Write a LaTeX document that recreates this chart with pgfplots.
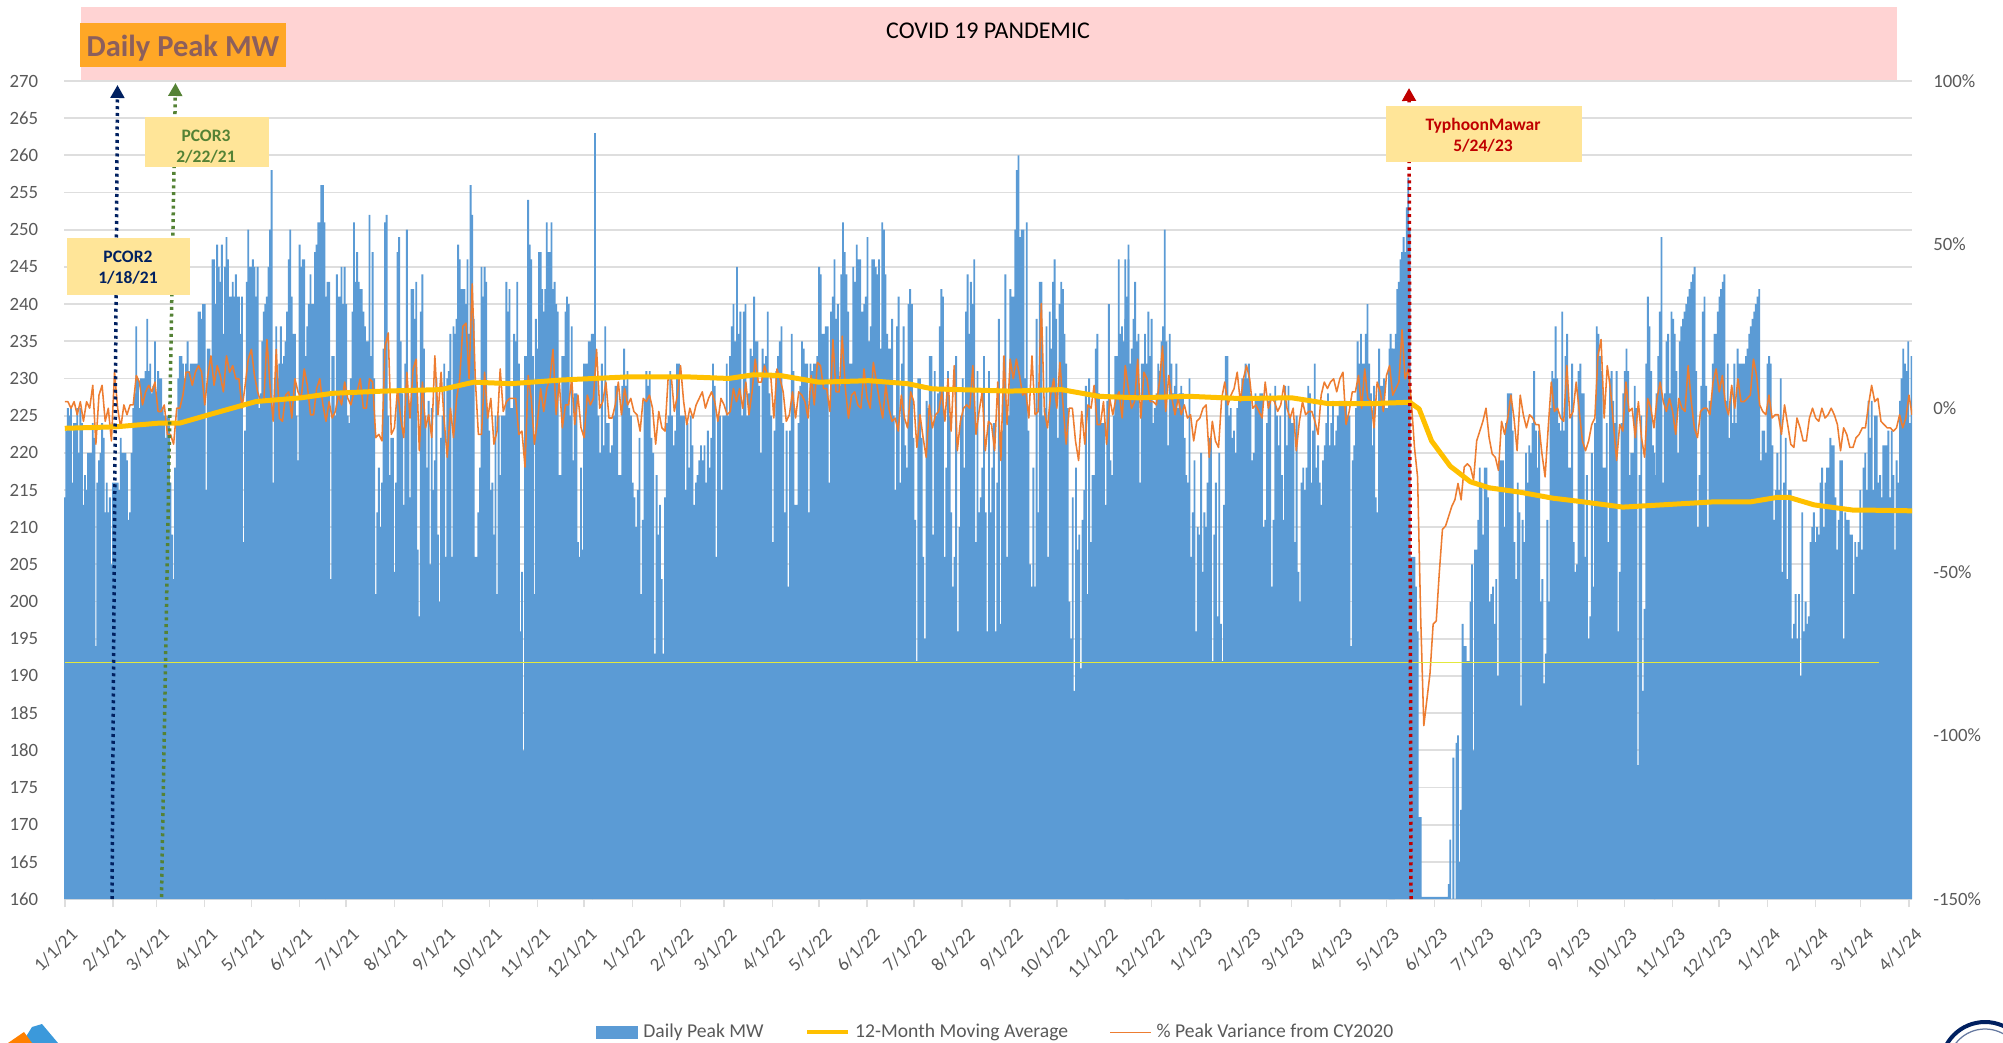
\documentclass[border=0pt]{standalone}
\usepackage{fontspec}
\setmainfont{Carlito}
\usepackage{pgfplots}
\usepackage{pgfplotstable}
\pgfplotsset{compat=1.18}
\usetikzlibrary{arrows.meta}
\definecolor{barblue}{HTML}{5B9BD5}
\definecolor{peakorange}{HTML}{ED7D31}
\definecolor{magold}{HTML}{FFC000}
\definecolor{ticktext}{HTML}{595959}
\definecolor{gridgray}{HTML}{DEDEDE}
\definecolor{pinkband}{HTML}{FFD3D3}
\definecolor{notebox}{HTML}{FFE598}
\definecolor{titlebox}{HTML}{FFA726}
\definecolor{titletext}{HTML}{8C5F5C}
\definecolor{navy}{HTML}{002060}
\definecolor{pgreen}{HTML}{548235}
\definecolor{tred}{HTML}{C00000}
\definecolor{limeline}{HTML}{E4E83C}
\tikzset{dotarrow/.style={draw=#1, line width=1.4pt, dash pattern=on 1.2pt off 1.5pt, -{Triangle[width=5.4pt,length=5.2pt]}}}
% Daily Peak MW, seven runs
\pgfplotstableread[row sep=crcr,header=false]{
214\\223\\226\\225\\226\\216\\224\\224\\226\\220\\226\\224\\213\\217\\215\\220\\220\\220\\224\\222\\194\\216\\219\\220\\224\\222\\212\\216\\212\\214\\205\\216\\216\\216\\216\\215\\222\\220\\220\\220\\219\\211\\212\\220\\226\\228\\237\\230\\226\\230\\230\\230\\231\\238\\231\\232\\228\\229\\235\\227\\231\\230\\230\\226\\225\\222\\225\\225\\216\\209\\203\\218\\224\\230\\233\\233\\232\\230\\232\\235\\231\\232\\232\\232\\232\\232\\239\\239\\238\\240\\240\\215\\234\\234\\233\\246\\246\\240\\248\\245\\243\\248\\236\\245\\249\\246\\241\\241\\243\\241\\244\\241\\241\\236\\241\\208\\223\\243\\250\\245\\245\\246\\245\\241\\245\\226\\228\\235\\239\\240\\241\\245\\250\\258\\216\\230\\237\\230\\232\\237\\232\\233\\235\\239\\246\\250\\241\\236\\236\\225\\219\\248\\245\\246\\246\\233\\237\\240\\244\\240\\240\\247\\248\\251\\251\\256\\256\\251\\
}\runA
\pgfplotstableread[row sep=crcr,header=false]{
241\\243\\243\\203\\233\\233\\225\\244\\241\\241\\245\\240\\245\\240\\225\\224\\230\\239\\251\\243\\247\\243\\242\\242\\239\\237\\235\\235\\252\\233\\247\\230\\201\\212\\218\\210\\216\\234\\251\\252\\225\\217\\222\\222\\204\\216\\247\\249\\235\\228\\213\\232\\250\\227\\214\\242\\242\\238\\243\\207\\198\\239\\244\\234\\225\\218\\227\\205\\226\\215\\219\\230\\209\\200\\222\\225\\232\\206\\230\\231\\236\\206\\237\\236\\238\\248\\246\\242\\242\\242\\240\\246\\236\\256\\252\\238\\206\\206\\212\\218\\245\\241\\245\\243\\225\\223\\215\\216\\209\\225\\201\\225\\217\\225\\225\\225\\243\\239\\242\\226\\226\\236\\235\\243\\232\\196\\204\\180\\233\\233\\254\\248\\246\\233\\201\\238\\234\\247\\247\\242\\239\\242\\251\\247\\247\\251\\242\\243\\240\\239\\217\\217\\233\\233\\239\\241\\240\\225\\237\\219\\228\\228\\208\\206\\218\\207\\232\\232\\232\\235\\235\\236\\
}\runB
\pgfplotstableread[row sep=crcr,header=false]{
236\\263\\230\\225\\220\\232\\221\\237\\224\\224\\220\\221\\225\\229\\229\\217\\217\\229\\234\\229\\231\\226\\225\\216\\214\\210\\215\\222\\201\\211\\227\\231\\229\\231\\222\\220\\193\\217\\209\\213\\203\\193\\214\\224\\225\\231\\225\\221\\223\\232\\232\\225\\225\\225\\215\\224\\218\\225\\221\\213\\216\\217\\219\\221\\219\\221\\216\\223\\218\\222\\232\\229\\206\\225\\225\\215\\225\\225\\232\\225\\233\\237\\240\\235\\245\\236\\239\\225\\239\\240\\225\\228\\234\\233\\241\\235\\235\\229\\220\\234\\232\\233\\239\\228\\225\\208\\223\\231\\233\\235\\237\\224\\212\\223\\202\\223\\236\\231\\213\\213\\224\\229\\235\\234\\232\\232\\212\\232\\231\\232\\232\\233\\245\\244\\236\\236\\237\\237\\216\\239\\241\\246\\238\\240\\229\\244\\251\\247\\244\\239\\232\\232\\245\\243\\248\\246\\246\\
}\runC
\pgfplotstableread[row sep=crcr,header=false]{
239\\239\\240\\241\\249\\235\\237\\246\\246\\245\\244\\246\\234\\251\\250\\244\\236\\234\\234\\238\\225\\215\\237\\241\\216\\232\\237\\221\\218\\240\\242\\240\\222\\211\\192\\230\\230\\222\\206\\195\\227\\226\\233\\233\\209\\231\\225\\228\\237\\242\\241\\206\\218\\231\\225\\212\\202\\206\\233\\196\\210\\225\\230\\218\\239\\244\\236\\243\\240\\246\\208\\231\\212\\214\\218\\233\\212\\196\\231\\212\\218\\224\\196\\216\\238\\197\\223\\233\\244\\206\\225\\242\\241\\241\\250\\258\\260\\249\\250\\250\\230\\251\\223\\205\\202\\218\\202\\238\\212\\243\\243\\225\\226\\237\\206\\239\\234\\243\\246\\238\\222\\240\\243\\242\\236\\232\\226\\200\\195\\214\\188\\218\\207\\209\\191\\211\\215\\229\\201\\230\\208\\217\\217\\234\\236\\228\\224\\224\\224\\213\\227\\240\\219\\217\\225\\233\\233\\246\\236\\237\\235\\238\\241\\246\\
}\runD
\pgfplotstableread[row sep=crcr,header=false]{
246\\238\\248\\232\\234\\238\\243\\235\\236\\216\\232\\232\\236\\232\\239\\233\\238\\224\\226\\228\\232\\231\\235\\237\\250\\235\\221\\236\\232\\228\\229\\232\\226\\228\\229\\228\\222\\217\\216\\230\\206\\212\\219\\196\\210\\209\\220\\204\\212\\210\\216\\222\\222\\192\\209\\216\\198\\220\\197\\192\\213\\233\\233\\225\\226\\222\\223\\220\\226\\227\\227\\230\\230\\232\\230\\232\\228\\219\\220\\228\\227\\227\\228\\228\\210\\211\\224\\227\\228\\202\\211\\229\\225\\221\\225\\217\\211\\229\\221\\229\\225\\224\\224\\208\\225\\204\\200\\216\\218\\215\\218\\229\\228\\216\\223\\232\\218\\221\\216\\213\\219\\221\\224\\228\\221\\224\\227\\221\\223\\225\\227\\227\\227\\227\\227\\225\\225\\194\\219\\221\\226\\235\\232\\236\\232\\232\\236\\240\\232\\228\\221\\229\\214\\212\\234\\229\\229\\230\\226\\226\\231\\236\\234\\231\\
}\runE
\pgfplotstableread[row sep=crcr,header=false]{
234\\233\\234\\234\\236\\242\\243\\246\\247\\249\\247\\253\\257\\250\\206\\206\\206\\202\\196\\171\\171\\160.3\\160.3\\160.3\\160.3\\160.3\\160.3\\160.3\\160.3\\160.3\\160.3\\160.3\\160.3\\160.3\\160.3\\160.3\\160.3\\160.3\\162\\168\\160\\179\\160\\181\\182\\165\\172\\197\\194\\194\\192\\192\\200\\205\\180\\207\\207\\211\\
}\runF
\pgfplotstableread[row sep=crcr,header=false]{
218\\216\\209\\218\\218\\214\\200\\201\\202\\197\\203\\190\\219\\219\\219\\210\\224\\228\\228\\228\\223\\208\\203\\216\\212\\186\\211\\208\\220\\216\\221\\220\\224\\231\\223\\218\\223\\200\\203\\189\\193\\211\\200\\226\\231\\230\\237\\230\\224\\223\\239\\223\\233\\236\\218\\218\\232\\208\\204\\205\\231\\232\\228\\228\\206\\217\\195\\198\\220\\202\\224\\237\\236\\233\\231\\218\\218\\224\\208\\230\\231\\227\\224\\231\\196\\204\\224\\228\\231\\234\\231\\217\\220\\220\\229\\226\\178\\217\\225\\188\\199\\232\\241\\237\\231\\221\\220\\
}\runG
\pgfplotstableread[row sep=crcr,header=false]{
217\\228\\233\\239\\249\\216\\228\\235\\236\\228\\239\\238\\236\\231\\220\\235\\237\\238\\239\\240\\241\\242\\243\\244\\245\\231\\210\\217\\229\\239\\241\\229\\210\\227\\227\\232\\236\\236\\239\\241\\242\\243\\244\\227\\232\\222\\228\\224\\232\\224\\234\\232\\232\\232\\232\\233\\234\\236\\237\\238\\239\\240\\241\\242\\219\\223\\223\\220\\232\\233\\232\\221\\211\\215\\220\\215\\230\\204\\216\\222\\203\\215\\215\\195\\197\\201\\195\\201\\190\\212\\196\\200\\197\\198\\208\\210\\212\\208\\210\\209\\216\\218\\210\\216\\218\\218\\222\\221\\221\\214\\207\\211\\219\\219\\195\\212\\211\\211\\209\\209\\201\\208\\206\\208\\215\\207\\218\\220\\215\\227\\222\\227\\215\\225\\225\\216\\217\\214\\221\\221\\221\\223\\214\\223\\217\\207\\219\\216\\227\\230\\234\\232\\231\\235\\224\\233\\233\\
}\runH
% % Peak Variance from CY2020, one reading every second day
\pgfplotstableread[row sep=crcr,header=false]{
2\\2\\0\\2\\-2\\2\\-4\\2\\0\\7\\-11\\4\\7\\-4\\0\\-10\\11\\0\\-6\\1\\-2\\1\\1\\10\\8\\1\\5\\7\\5\\8\\-1\\-1\\1\\-8\\-8\\-11\\0\\0\\4\\11\\11\\7\\11\\13\\11\\1\\10\\16\\7\\13\\10\\5\\16\\11\\13\\9\\9\\0\\7\\15\\18\\10\\5\\2\\2\\21\\7\\-4\\18\\-3\\-4\\4\\5\\-3\\9\\5\\3\\12\\7\\-2\\-2\\6\\9\\1\\-4\\2\\
-3\\-1\\4\\1\\8\\3\\1\\5\\5\\9\\0\\0\\9\\8\\-9\\-8\\-10\\19\\23\\-8\\-6\\6\\-3\\-9\\11\\-3\\12\\15\\-13\\8\\-6\\-2\\-9\\16\\-2\\11\\-4\\-15\\0\\-9\\3\\9\\25\\26\\9\\38\\9\\-8\\-8\\11\\-3\\3\\-11\\-7\\12\\-1\\2\\3\\3\\3\\-8\\-7\\-18\\10\\3\\-11\\-4\\6\\-1\\6\\9\\18\\-2\\8\\-6\\1\\1\\9\\-5\\4\\-6\\-9\\4\\1\\3\\
18\\0\\2\\8\\-3\\-3\\1\\8\\-2\\6\\1\\3\\-1\\-2\\-7\\3\\2\\4\\0\\-11\\-1\\-6\\-7\\9\\10\\-1\\4\\13\\2\\-5\\0\\-3\\1\\3\\5\\0\\3\\5\\2\\-4\\3\\1\\-2\\-1\\6\\2\\6\\0\\8\\-2\\5\\15\\8\\8\\13\\10\\10\\-3\\12\\9\\5\\-4\\-2\\5\\-3\\5\\4\\2\\-3\\10\\1\\14\\13\\6\\6\\-1\\21\\5\\5\\22\\6\\-3\\4\\5\\1\\
0\\12\\3\\0\\14\\8\\2\\-3\\7\\0\\-4\\-3\\-7\\4\\-3\\-6\\5\\2\\-12\\-2\\-9\\-15\\1\\-6\\-2\\-1\\5\\-4\\9\\-7\\13\\-13\\-4\\0\\1\\0\\13\\-8\\-1\\5\\-13\\-4\\-5\\-13\\8\\-16\\16\\-5\\15\\9\\15\\10\\4\\5\\-3\\16\\-2\\-1\\32\\-1\\-6\\4\\9\\0\\14\\1\\-11\\0\\0\\-10\\-16\\-1\\-11\\1\\0\\7\\-5\\-5\\2\\-11\\3\\-2\\3\\5\\-3\\
13\\6\\0\\2\\15\\-3\\11\\9\\2\\2\\1\\8\\19\\-1\\10\\3\\-2\\3\\-2\\1\\-3\\-2\\-10\\-4\\-3\\0\\1\\-15\\-4\\-10\\-12\\3\\8\\1\\4\\6\\11\\2\\9\\13\\9\\0\\1\\-1\\-3\\8\\0\\3\\2\\-1\\1\\7\\0\\-3\\0\\-13\\-4\\2\\-2\\-1\\-1\\-4\\-8\\4\\8\\6\\8\\9\\5\\9\\11\\-5\\-1\\5\\5\\10\\0\\12\\3\\2\\-6\\8\\5\\-1\\10\\13\\
4\\6\\8\\24\\9\\12\\2\\-12\\-21\\-64\\-97\\-89\\-81\\-66\\-65\\-50\\-37\\-36\\-33\\-30\\-28\\-23\\-28\\-18\\-17\\-18\\-22\\-10\\-7\\-4\\0\\-9\\-14\\-15\\-19\\-4\\-8\\-3\\4\\-3\\-13\\4\\-2\\-6\\-2\\-3\\-5\\-5\\-14\\-21\\-6\\8\\-1\\0\\-3\\-4\\13\\-3\\-1\\8\\-1\\-10\\-13\\-10\\-5\\-3\\16\\21\\-3\\13\\6\\-5\\-16\\-5\\-7\\8\\-1\\0\\-9\\2\\-9\\-15\\3\\0\\-6\\
3\\8\\2\\-1\\3\\-1\\-8\\3\\0\\-1\\13\\2\\-6\\-9\\-1\\0\\0\\-2\\8\\12\\5\\10\\1\\-2\\7\\0\\9\\2\\2\\3\\4\\15\\10\\1\\-1\\-2\\4\\-3\\-2\\-2\\-8\\1\\-5\\-11\\-12\\-3\\-6\\-10\\-10\\-3\\0\\-3\\-4\\0\\-3\\-2\\0\\-2\\-5\\-13\\-6\\-8\\-12\\-12\\-9\\-8\\-6\\-6\\1\\7\\2\\3\\-4\\-5\\-6\\-6\\-7\\-6\\-2\\-6\\-3\\4\\-2\\
}\runPct
\begin{document}
\begin{tikzpicture}
\begin{scope}[x=0.4pt,y=-0.4pt]
\fill[pinkband] (81,7) rectangle (1897,81);
\end{scope}
\pgfplotsset{
  base/.style={
    at={(25.6pt,-359.6pt)}, anchor=south west,
    scale only axis, width=739.2pt, height=327.2pt,
    xmin=-0.5, xmax=1188, clip=true,
    /pgf/number format/assume math mode=true,
    tick label style={font=\fontsize{7.5}{9}\selectfont, text=ticktext},
  },
  dailybar/.style={fill=barblue, draw=none, bar shift=0pt},
}
% bars on the MW axis
\begin{axis}[base,
  ymin=160, ymax=270, ytick distance=5,
  axis x line*=bottom, axis y line*=left,
  x axis line style={draw=gridgray,line width=0.7pt,-},
  y axis line style={draw=none},
  ymajorgrids, grid style={gridgray,line width=0.7pt},
  xtick={0,31,59,90,120,151,181,212,243,273,304,334,365,396,424,455,485,516,546,577,608,638,669,699,730,761,789,820,850,881,911,942,973,1003,1034,1064,1095,1126,1155,1186},
  xticklabels={1/1/21,2/1/21,3/1/21,4/1/21,5/1/21,6/1/21,7/1/21,8/1/21,9/1/21,10/1/21,11/1/21,12/1/21,1/1/22,2/1/22,3/1/22,4/1/22,5/1/22,6/1/22,7/1/22,8/1/22,9/1/22,10/1/22,11/1/22,12/1/22,1/1/23,2/1/23,3/1/23,4/1/23,5/1/23,6/1/23,7/1/23,8/1/23,9/1/23,10/1/23,11/1/23,12/1/23,1/1/24,2/1/24,3/1/24,4/1/24},
  x tick label style={rotate=45, anchor=north east, inner sep=1pt, yshift=-5.6pt, xshift=-3pt},
  y tick label style={xshift=-3.6pt},
  xtick style={draw=gridgray,line width=0.6pt}, ytick style={draw=none},
  tick align=outside, major tick length=3.2pt,
  ybar, bar width=1.2,
]
\addplot[dailybar] table[x expr={\coordindex}, y index=0]{\runA};
\addplot[dailybar] table[x expr={168+\coordindex}, y index=0]{\runB};
\addplot[dailybar] table[x expr={339.9+1.1*\coordindex}, y index=0]{\runC};
\addplot[dailybar] table[x expr={512+1.056*\coordindex}, y index=0]{\runD};
\addplot[dailybar] table[x expr={682+1.06*\coordindex}, y index=0]{\runE};
\addplot[dailybar] table[x expr={852+\coordindex}, y index=0]{\runF};
\addplot[dailybar] table[x expr={910+1.06*\coordindex}, y index=0]{\runG};
\addplot[dailybar] table[x expr={1022.6+1.065*\coordindex}, y index=0]{\runH};
\end{axis}
% orange line on the percent axis
\begin{axis}[base,
  ymin=-150, ymax=100, ytick={-150,-100,-50,0,50,100},
  yticklabels={-150\%,-100\%,-50\%,0\%,50\%,100\%},
  axis x line=none, axis y line*=right,
  y axis line style={draw=none}, ytick style={draw=none},
  major tick length=0pt,
  y tick label style={xshift=5pt},
]
\addplot[peakorange, line width=0.62pt, line join=round] table[x expr={2*\coordindex}, y index=0]{\runPct};
\end{axis}
% moving average, threshold line and legend on a hidden MW axis
\begin{axis}[base, ymin=160, ymax=270, hide axis,
  legend style={at={(0.505,-0.163)}, anchor=center, draw=none, fill=none,
    legend columns=3, font=\fontsize{7.85}{9}\selectfont\color{ticktext},
    inner sep=0pt,
    /tikz/every even column/.append style={column sep=14.5pt}},
  legend cell align=left,
]
\addplot[limeline, line width=0.45pt, forget plot] coordinates {(0,191.8)(1167,191.8)};
\addlegendimage{legend image code/.code={\fill[barblue] (0pt,-2.3pt) rectangle (16.4pt,2.3pt);}}
\addlegendentry{Daily Peak MW}
\addplot[magold, line width=2pt, line join=round, legend image code/.code={\draw[magold,line width=1.7pt] (0pt,0pt) -- (16.4pt,0pt);}] coordinates {
(0,223.3)(33,223.5)(61,224)(74,224)(94,225.2)(123,226.9)(152,227.4)(172,228)(205,228.3)(242,228.5)(263,229.5)(287,229.3)(320,229.8)(361,230.2)(402,230.2)(427,230)(443,230.5)(460,230.4)(485,229.5)(517,229.7)(542,229.3)(558,228.6)(608,228.3)(641,228.5)(665,227.6)(690,227.4)(723,227.6)(756,227.3)(789,227.4)(813,226.6)(838,226.6)(865,226.8)(871,225.9)(879,221.6)(891,218.2)(904,216.1)(916,215.3)(936,214.7)(957,213.9)(973,213.5)(1002,212.7)(1027,213)(1060,213.4)(1084,213.4)(1101,214)(1109,214)(1125,213)(1150,212.3)(1158,212.3)(1188,212.2)};
\addlegendentry{12-Month Moving Average}
\addlegendimage{legend image code/.code={\draw[peakorange,line width=0.5pt] (0pt,0pt) -- (16.4pt,0pt);}}
\addlegendentry{\% Peak Variance from CY2020}
\end{axis}
% annotations
\begin{scope}[x=0.4pt,y=-0.4pt]
\draw[dotarrow=navy] (112,899) -- (117.5,85);
\draw[dotarrow=pgreen] (161.5,897) -- (175.5,83);
\draw[dotarrow=tred] (1411,899) -- (1409,88);
\fill[titlebox] (80,23) rectangle (286,67);
\node[text=titletext, font=\fontsize{12.2}{14}\selectfont\bfseries] at (183,48) {Daily Peak MW};
\node[text=black, font=\fontsize{9.6}{11}\selectfont] at (988,31) {COVID 19 PANDEMIC};
\fill[notebox] (67,238) rectangle (190,295);
\node[align=center, text=navy, font=\fontsize{7}{8.4}\selectfont\bfseries] at (128,267.5) {PCOR2\\1/18/21};
\fill[notebox] (145,117) rectangle (269,167);
\node[align=center, text=pgreen, font=\fontsize{7}{8.4}\selectfont\bfseries] at (206,147) {PCOR3\\2/22/21};
\fill[notebox] (1386,106) rectangle (1582,162);
\node[align=center, text=tred, font=\fontsize{7}{8.4}\selectfont\bfseries] at (1483,135.5) {TyphoonMawar\\5/24/23};
% logos at the bottom corners, cut by the page edge
\fill[cyan!70!blue!80] (22,1043) -- (32,1027) -- (42,1024) -- (58,1043) -- cycle;
\fill[orange] (8,1043) -- (24,1032) -- (32,1043) -- cycle;
\draw[navy,line width=1.6pt] (1985,1066) circle (44);
\draw[navy!60,line width=0.5pt] (1985,1066) circle (37);
\pgfresetboundingbox
\path[use as bounding box] (0,0) rectangle (2003,1043);
\end{scope}
\end{tikzpicture}
\end{document}
